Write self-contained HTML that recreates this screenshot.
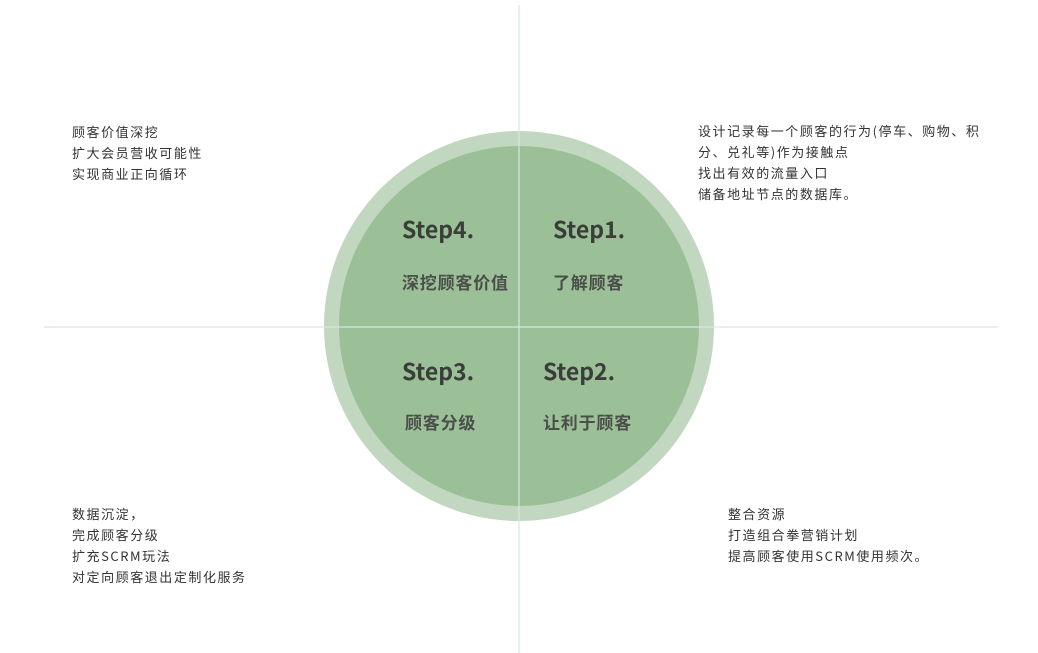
<!DOCTYPE html>
<html><head><meta charset="utf-8"><style>
body{margin:0;width:1038px;height:653px;background:#fff;position:relative;overflow:hidden;font-family:"Noto Sans CJK SC","Liberation Sans",sans-serif;}
.t{position:absolute;font-size:13px;letter-spacing:1.55px;line-height:21px;color:#333;white-space:nowrap;}
.s{position:absolute;font-size:23px;font-weight:bold;color:#3a3d3a;line-height:26px;white-space:nowrap;}
.l{position:absolute;font-size:17px;font-weight:bold;color:#4a4f4a;line-height:20px;letter-spacing:0.8px;white-space:nowrap;}
</style></head><body>
<svg width="1038" height="653" style="position:absolute;left:0;top:0">
<circle cx="519" cy="326" r="195" fill="#c1d7bf"/>
<circle cx="519" cy="326" r="180" fill="#9bc098"/>
<line x1="519" y1="5" x2="519" y2="653" stroke="#d6e6e2" stroke-opacity="0.8" stroke-width="1.5"/>
<line x1="44" y1="327" x2="998" y2="327" stroke="#d6e6e2" stroke-opacity="0.8" stroke-width="1.5"/>
</svg>
<div class="t" style="left:72px;top:121px">顾客价值深挖<br>扩大会员营收可能性<br>实现商业正向循环</div>
<div class="t" style="left:698px;top:120px">设计记录每一个顾客的行为(停车、购物、积<br>分、兑礼等)作为接触点<br>找出有效的流量入口<br>储备地址节点的数据库。</div>
<div class="t" style="left:72px;top:503px">数据沉淀，<br>完成顾客分级<br>扩充SCRM玩法<br>对定向顾客退出定制化服务</div>
<div class="t" style="left:728px;top:503px">整合资源<br>打造组合拳营销计划<br>提高顾客使用SCRM使用频次。</div>
<div class="s" style="left:402px;top:215px">Step4.</div>
<div class="s" style="left:553px;top:215px">Step1.</div>
<div class="l" style="left:402px;top:272px">深挖顾客价值</div>
<div class="l" style="left:553px;top:272px">了解顾客</div>
<div class="s" style="left:402px;top:357px">Step3.</div>
<div class="s" style="left:543px;top:357px">Step2.</div>
<div class="l" style="left:405px;top:412px">顾客分级</div>
<div class="l" style="left:543px;top:412px">让利于顾客</div>
</body></html>
